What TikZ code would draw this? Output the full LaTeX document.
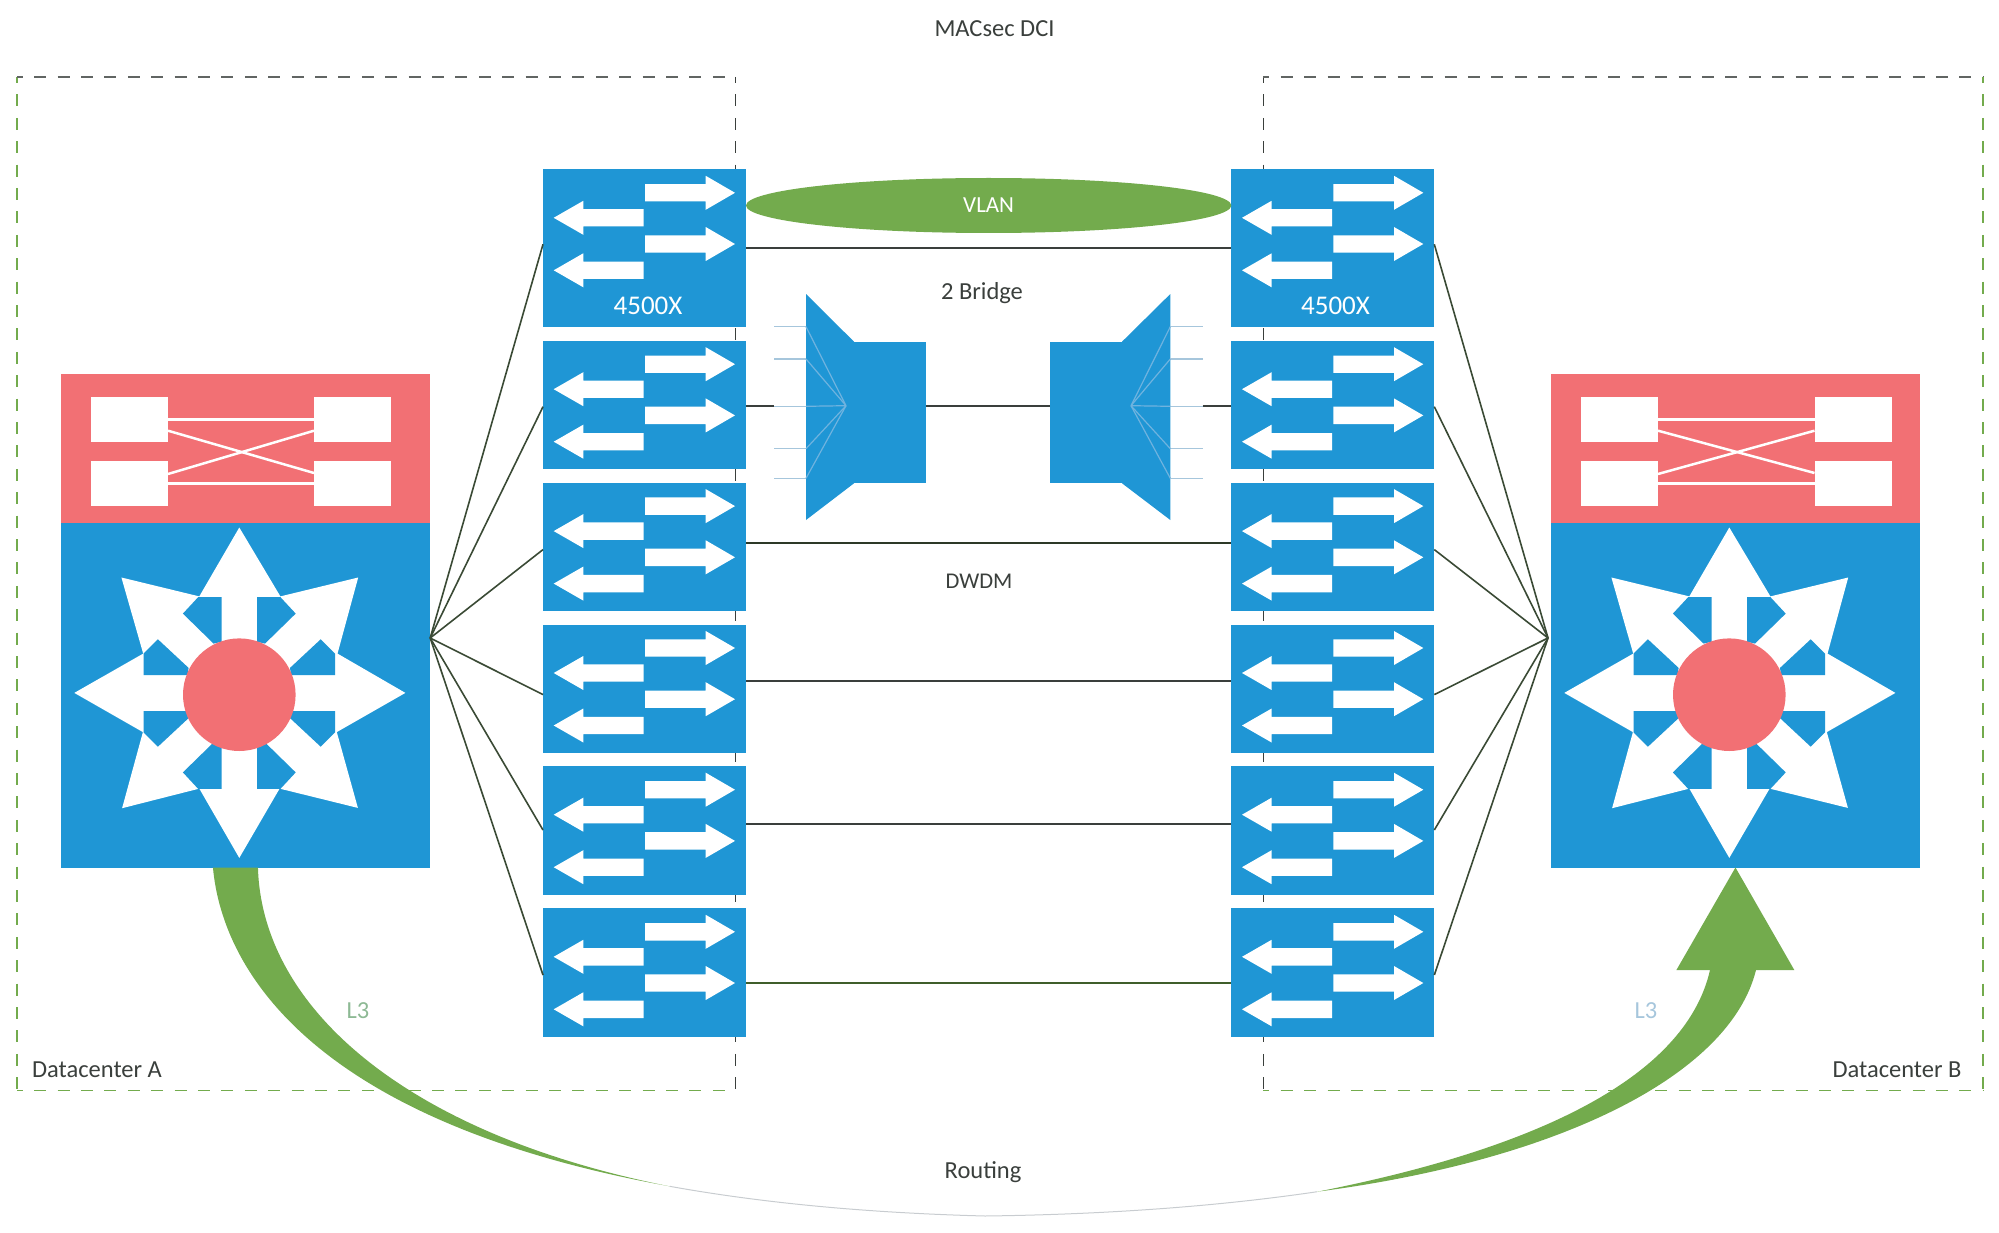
\documentclass[tikz,border=0pt]{standalone}
\usepackage{fontspec}
\setmainfont{Carlito}
\usetikzlibrary{shapes.geometric}
\usetikzlibrary{positioning}

\definecolor{netblue}{HTML}{1F96D5}
\definecolor{netred}{HTML}{F27074}
\definecolor{netgreen}{HTML}{73AB4D}
\definecolor{netdark}{HTML}{3A3F3C}
\definecolor{fandark}{HTML}{3A4A35}
\definecolor{stubblue}{HTML}{A6C6DC}
\definecolor{fanblue}{HTML}{6FB3DF}
\definecolor{hairgrey}{HTML}{C8CCD0}

\tikzset{
	swarrows/.pic={
		\foreach \y in {23.5,74.7} {
			\fill[white] (102,\y-8.7) -- (162.7,\y-8.7) -- (162.7,\y-17) -- (192,\y)
			-- (162.7,\y+17) -- (162.7,\y+8.7) -- (102,\y+8.7) -- cycle;
		}
		\foreach \y in {48.5,101} {
			\fill[white] (100.7,\y-8.7) -- (40.3,\y-8.7) -- (40.3,\y-17) -- (10.7,\y)
			-- (40.3,\y+17) -- (40.3,\y+8.7) -- (100.7,\y+8.7) -- cycle;
		}
	},
	pics/coreicon/.style={code={
		\node[linkbox] (-tl) at (129.5,419.7) {};
		\node[linkbox] (-tr) at (352.5+#1,419.7) {};
		\node[linkbox] (-bl) at (129.5,483.5) {};
		\node[linkbox] (-br) at (352.5+#1,483.5) {};
		\draw[linkline] (-tl) -- (-tr);
		\draw[linkline] (-bl) -- (-br);
		\draw[linkline] ([yshift=-11pt]-tl.east) -- ([yshift=10.5pt]-br.west);
		\draw[linkline] ([yshift=9.5pt]-bl.east) -- ([yshift=-11pt]-tr.west);
		\fill[white] (239.3,527.5) -- (280.4,596.4) -- (358.2,577.5) -- (337.5,653.6)
		-- (405.4,692.9) -- (336.8,732.1) -- (357.9,807.9) -- (279.6,788.6)
		-- (239.3,857.9) -- (199.3,788.6) -- (122.1,808.2) -- (142.9,732.1)
		-- (74.3,692.9) -- (143.2,653.6) -- (121.4,577.5) -- (199.3,596.4) -- cycle;
		\foreach \sx/\sy in {1/1,-1/1,1/-1,-1/-1} {
			\begin{scope}[shift={(239.3,693)},xscale=\sx,yscale=\sy]
				\fill[netblue] (17.8,-95.9) -- (41.1,-95.9) -- (56.4,-79.4) -- (25.7,-49.4) -- (17.8,-51.2) -- cycle;
				\fill[netblue] (95.7,-18) -- (95.7,-39.4) -- (81.4,-53.7) -- (50.7,-25.1) -- (51.7,-18) -- cycle;
			\end{scope}
		}
		\fill[netred] (239.3,694.7) circle (56.3);
	}},
	linkbox/.style={fill=white,inner sep=0pt,outer sep=0pt,minimum width=77pt,minimum height=45.5pt},
	linkline/.style={white,line width=2.5pt},
	switchbox/.style={fill=netblue,inner sep=0pt,outer sep=0pt,minimum width=203pt,minimum height=128.3pt},
	redbox/.style={fill=netred,inner sep=0pt,outer sep=0pt,minimum width=369.5pt,minimum height=149pt},
	corebox/.style={fill=netblue,inner sep=0pt,outer sep=0pt,minimum width=369.5pt,minimum height=344.5pt},
	bridgebox/.style={fill=netblue,inner sep=0pt,outer sep=0pt,minimum width=72pt,minimum height=141.6pt},
	txt/.style={text=netdark,font=\fontsize{24.5}{28}\selectfont,inner sep=0pt},
	dcside/.style={line width=1.5pt,dash pattern=on 12pt off 11.4pt,dash phase=6pt}
}

\begin{document}
\begin{tikzpicture}[x=1pt,y=-1pt]
	\useasboundingbox (0,0) rectangle (1999,1233);
	
	% datacenter frames
	\coordinate (frameAnw) at (16.8,77);
	\coordinate (frameAne) at (735.3,77);
	\coordinate (frameAsw) at (16.8,1090.3);
	\coordinate (frameAse) at (735.3,1090.3);
	\coordinate (frameBnw) at (1263.3,77);
	\coordinate (frameBne) at (1983,77);
	\coordinate (frameBsw) at (1263.3,1090.3);
	\coordinate (frameBse) at (1983,1090.3);
	\draw[dcside,netgreen] (frameAnw) -- (frameAsw);
	\draw[dcside,netdark!80] (frameAnw) -- (frameAne);
	\draw[dcside,netdark] (frameAne) -- (frameAse);
	\draw[dcside,netgreen] (frameAsw) -- (frameAse);
	\draw[dcside,netdark] (frameBnw) -- (frameBsw);
	\draw[dcside,netdark!80] (frameBnw) -- (frameBne);
	\draw[dcside,netgreen] (frameBne) -- (frameBse);
	\draw[dcside,netgreen] (frameBsw) -- (frameBse);
	
	\node[redbox] (redA) at (245.45,448.5) {};
	\node[corebox] (coreA) [below=0pt of redA] {};
	\node[redbox] (redB) [right=1120.5pt of redA] {};
	\node[corebox] (coreB) [below=0pt of redB] {};
	\pic (iconA) at (0,0) {coreicon=0};
	\pic (iconB) at (1490,0) {coreicon=10.5};
	
	\node[switchbox,minimum height=157.4pt,anchor=north west] (sw1) at (543,169.3) {};
	\node[switchbox] (sw2) [below=14pt of sw1] {};
	\node[switchbox] (sw3) [below=13.6pt of sw2] {};
	\node[switchbox] (sw4) [below=13.6pt of sw3] {};
	\node[switchbox] (sw5) [below=13.4pt of sw4] {};
	\node[switchbox] (sw6) [below=13.8pt of sw5] {};
	\node[switchbox,minimum height=157.4pt,anchor=north west] (rsw1) at (1231.3,169.3) {};
	\node[switchbox] (rsw2) [below=14pt of rsw1] {};
	\node[switchbox] (rsw3) [below=13.6pt of rsw2] {};
	\node[switchbox] (rsw4) [below=13.6pt of rsw3] {};
	\node[switchbox] (rsw5) [below=13.4pt of rsw4] {};
	\node[switchbox] (rsw6) [below=13.8pt of rsw5] {};
	\foreach \n in {1,...,6} {
		\pic at (sw\n.north west) {swarrows};
		\pic at (rsw\n.north west) {swarrows};
	}
	\node[txt,text=white,font=\fontsize{27}{30}\selectfont] (modelA) at (648,306) {4500X};
	\node[txt,text=white,font=\fontsize{27}{30}\selectfont] (modelB) at (1335.5,306) {4500X};
	
	\node[ellipse,fill=netgreen,inner sep=0pt,outer sep=0pt,minimum width=485.3pt,minimum height=55pt,
	text=white,font=\fontsize{23}{26}\selectfont] (vlan) at (988.65,205.5) {VLAN};
	
	% links across the middle
	\foreach \n/\y/\c in {1/248/netdark,3/543/netdark!70!netgreen!60!black,4/681/netdark,5/823.6/netdark,6/983/netgreen!55!black} {
		\draw[\c,line width=2pt] (sw\n.east |- 0,\y) -- (rsw\n.west |- 0,\y);
	}
	
	% fibre bridges
	\node[bridgebox] (bridgeA) at (890,412.5) {};
	\node[bridgebox] (bridgeB) at (1086,412.5) {};
	\fill[netblue] (bridgeA.north west) -- (806,294) -- (806,520) -- (bridgeA.south west) -- cycle;
	\fill[netblue] (bridgeB.north east) -- (1170.3,294) -- (1170.3,520) -- (bridgeB.south east) -- cycle;
	\coordinate (stubA) at (774,406.3);
	\coordinate (stubB) at (1202.7,406.3);
	\coordinate (fanA) at (846,405.7);
	\coordinate (fanB) at (1131,405.7);
	\draw[netdark,line width=1.8pt] (sw2.east |- stubA) -- (stubA);
	\draw[netdark,line width=1.8pt] (stubB) -- (rsw2.west |- stubB);
	\draw[netdark,line width=1.8pt] (bridgeA.east |- stubA) -- (bridgeB.west |- stubA);
	\foreach \y in {326.7,359,406.3,448.7,478.3} {
		\draw[stubblue,line width=1.5pt] (774,\y) -- (806,\y);
		\draw[fanblue,line width=1.2pt] (806,\y) -- (fanA);
		\draw[stubblue,line width=1.5pt] (1170.3,\y) -- (1202.7,\y);
		\draw[fanblue,line width=1.2pt] (1170.3,\y) -- (fanB);
	}
	
	% links to the core
	\coordinate (hubA) at (coreA.east |- 0,638);
	\coordinate (hubB) at (1548,638);
	\foreach \n/\y in {1/244.3,2/406.7,3/549.6,4/694.6,5/830,6/975} {
		\draw[fandark,line width=1.6pt] (hubA) -- (sw\n.west |- 0,\y);
		\draw[fandark,line width=1.6pt] (hubB) -- (rsw\n.east |- 0,\y);
	}
	
	% routing arrow
	\coordinate (taperA) at (669.7,1186.3);
	\coordinate (taperB) at (1317.2,1191.7);
	\draw[hairgrey,line width=1pt] (taperA) .. controls (757.8,1202.2) and (862,1212.8) .. (985,1216)
	.. controls (1111.1,1214.4) and (1221.8,1205.8) .. (taperB);
	\fill[netgreen] ([xshift=-32.5pt]coreA.south) .. controls (222.6,973.4) and (317.3,1122.7) .. (taperA)
	.. controls (410,1135) and (262,1010) .. ([xshift=12.5pt]coreA.south) -- cycle;
	\fill[netgreen] (taperB) .. controls (1560,1160) and (1730,1075) .. (1756,970) -- (1794.3,970)
	-- (coreB.south) -- (1676.4,970) -- (1710,970)
	.. controls (1685,1080) and (1530,1150) .. (taperB) -- cycle;
	
	\node[txt] (title) at (994.5,28.7) {MACsec DCI};
	\node[txt] (bridgelabel) at (982,293.5) {2 Bridge};
	\node[txt,font=\fontsize{22.5}{26}\selectfont] (dwdm) at (979,581) {DWDM};
	\node[txt] (routing) at (983,1172) {Routing};
	\node[txt] (dcA) at (97,1070) {Datacenter A};
	\node[txt] (dcB) at (1897,1070) {Datacenter B};
	\node[txt,text=netgreen!50!stubblue] (ltA) at (358,1011) {L3};
	\node[txt,text=stubblue] (ltB) at (1646,1011) {L3};
\end{tikzpicture}
\end{document}
